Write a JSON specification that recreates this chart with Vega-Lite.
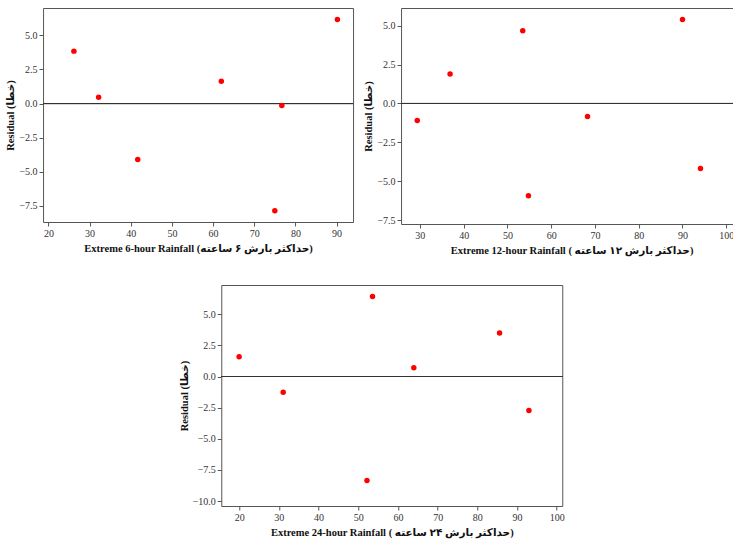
{
  "$schema": "https://vega.github.io/schema/vega-lite/v6.json",
  "padding": {"left": 5, "top": 7, "right": 0, "bottom": 5},
  "background": "white",
  "datasets": {
    "p6": [
      {"rain": 26.2, "residual": 3.84},
      {"rain": 32.2, "residual": 0.46},
      {"rain": 41.7, "residual": -4.1},
      {"rain": 62.0, "residual": 1.64},
      {"rain": 75.0, "residual": -7.85},
      {"rain": 76.7, "residual": -0.15},
      {"rain": 90.2, "residual": 6.16}
    ],
    "p12": [
      {"rain": 29.4, "residual": -1.09},
      {"rain": 36.9, "residual": 1.9},
      {"rain": 53.5, "residual": 4.67},
      {"rain": 54.8, "residual": -5.93},
      {"rain": 68.3, "residual": -0.83},
      {"rain": 90.0, "residual": 5.39},
      {"rain": 94.1, "residual": -4.18}
    ],
    "p24": [
      {"rain": 20.0, "residual": 1.58},
      {"rain": 31.1, "residual": -1.26},
      {"rain": 52.2, "residual": -8.36},
      {"rain": 53.6, "residual": 6.43},
      {"rain": 64.0, "residual": 0.7},
      {"rain": 85.6, "residual": 3.49},
      {"rain": 93.0, "residual": -2.73}
    ]
  },
  "config": {
    "view": {"stroke": "#555", "strokeWidth": 1},
    "axis": {
      "grid": false,
      "domain": false,
      "labelFont": "Liberation Serif",
      "labelFontSize": 10,
      "labelColor": "#333",
      "labelPadding": 2,
      "labelOverlap": false,
      "tickColor": "#555",
      "tickSize": 4,
      "titleFont": "Liberation Serif, DejaVu Sans",
      "titleFontSize": 10.5,
      "titleFontWeight": "bold",
      "titleColor": "#111"
    },
    "axisX": {"titlePadding": 5},
    "axisY": {"titlePadding": 3}
  },
  "spacing": 28,
  "center": true,
  "vconcat": [
    {
      "spacing": 9,
      "hconcat": [
        {
          "width": 310,
          "height": 214,
          "data": {"name": "p6"},
          "layer": [
            {"mark": {"type": "rule", "color": "#333", "strokeWidth": 0.8},
              "encoding": {"y": {"datum": 0, "type": "quantitative", "scale": {"domain": [-8.68, 7.0], "nice": false, "zero": false},
                "axis": {"values": [-7.5, -5, -2.5, 0, 2.5, 5], "format": ".1f", "title": "Residual   (خطا)"}}}},
            {
              "mark": {"type": "point", "filled": true, "color": "#ff0000", "size": 30, "opacity": 1},
              "encoding": {
                "x": {"field": "rain", "type": "quantitative", "scale": {"domain": [18.7, 94.0], "nice": false, "zero": false},
                  "axis": {"values": [20, 30, 40, 50, 60, 70, 80, 90], "title": "Extreme 6-hour Rainfall  (حداکثر بارش ۶ ساعته)"}},
                "y": {"field": "residual", "type": "quantitative", "scale": {"domain": [-8.68, 7.0], "nice": false, "zero": false},
                  "axis": {"values": [-7.5, -5, -2.5, 0, 2.5, 5], "format": ".1f", "title": "Residual   (خطا)"}}
              }
            }
          ]
        },
        {
          "width": 341,
          "height": 216,
          "data": {"name": "p12"},
          "layer": [
            {"mark": {"type": "rule", "color": "#333", "strokeWidth": 0.8},
              "encoding": {"y": {"datum": 0, "type": "quantitative", "scale": {"domain": [-7.74, 6.134], "nice": false, "zero": false},
                "axis": {"values": [-7.5, -5, -2.5, 0, 2.5, 5], "format": ".1f", "title": "Residual (خطا)"}}}},
            {
              "mark": {"type": "point", "filled": true, "color": "#ff0000", "size": 30, "opacity": 1},
              "encoding": {
                "x": {"field": "rain", "type": "quantitative", "scale": {"domain": [25.7, 103.6], "nice": false, "zero": false},
                  "axis": {"values": [30, 40, 50, 60, 70, 80, 90, 100], "title": "Extreme 12-hour Rainfall ( حداکثر بارش ۱۲ ساعته)"}},
                "y": {"field": "residual", "type": "quantitative", "scale": {"domain": [-7.74, 6.134], "nice": false, "zero": false},
                  "axis": {"values": [-7.5, -5, -2.5, 0, 2.5, 5], "format": ".1f", "title": "Residual (خطا)"}}
              }
            }
          ]
        }
      ]
    },
    {
      "width": 341,
      "height": 221,
      "data": {"name": "p24"},
      "layer": [
        {"mark": {"type": "rule", "color": "#333", "strokeWidth": 0.8},
          "encoding": {"y": {"datum": 0, "type": "quantitative", "scale": {"domain": [-10.4, 7.35], "nice": false, "zero": false},
            "axis": {"values": [-10, -7.5, -5, -2.5, 0, 2.5, 5], "format": ".1f", "title": "Residual (خطا)"}}}},
        {
          "mark": {"type": "point", "filled": true, "color": "#ff0000", "size": 30, "opacity": 1},
          "encoding": {
            "x": {"field": "rain", "type": "quantitative", "scale": {"domain": [15.5, 101.4], "nice": false, "zero": false},
              "axis": {"values": [20, 30, 40, 50, 60, 70, 80, 90, 100], "title": "Extreme 24-hour Rainfall ( حداکثر بارش ۲۴ ساعته)"}},
            "y": {"field": "residual", "type": "quantitative", "scale": {"domain": [-10.4, 7.35], "nice": false, "zero": false},
              "axis": {"values": [-10, -7.5, -5, -2.5, 0, 2.5, 5], "format": ".1f", "title": "Residual (خطا)"}}
          }
        }
      ]
    }
  ]
}
